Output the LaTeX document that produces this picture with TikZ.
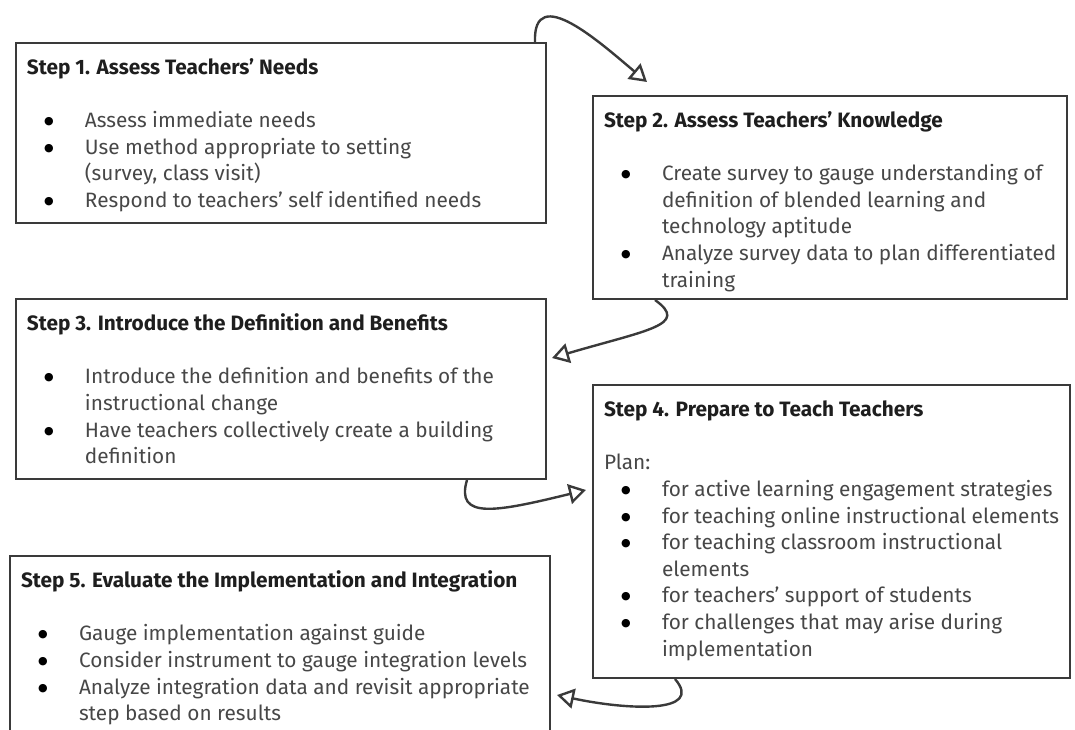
\documentclass[tikz,border=0pt]{standalone}
\usepackage{fontspec}
\setmainfont{Fira Sans}
\newfontfamily\dotfont{DejaVu Sans}
\usepackage{array}
\usetikzlibrary{arrows.meta,positioning}

\definecolor{edgegray}{HTML}{3A3A3A}
\definecolor{bodygray}{HTML}{474747}
\definecolor{headblack}{HTML}{1E1E1E}

\tikzstyle{stepbox} = [draw=edgegray,line width=2pt,rectangle,anchor=north west,
    inner xsep=11pt,inner ysep=13pt,text height=18.6pt,text=bodygray,
    font=\fontsize{20.8}{26.6}\selectfont]
\tikzstyle{arrow} = [draw=edgegray,line width=2.4pt,
    -{Triangle[open,length=17pt,width=20pt]}]

% bullet cell and bold step heading
\newcommand{\bul}{\makebox[44pt]{\color{black}\raisebox{3pt}{\dotfont\fontsize{11}{11}\selectfont ●}}}
\newcommand{\head}[2]{\multicolumn{2}{@{}p{#1}@{}}{\leavevmode\color{headblack}\bfseries #2}}

\begin{document}
\begin{tikzpicture}[x=1pt,y=-1pt]
    \useasboundingbox (0,0) rectangle (1075,730);

    \node[stepbox,text depth=135.4pt] (s1) at (15,42) {%
        \begin{tabular}[t]{@{}l@{\hspace{14pt}}l@{}}
        \head{508pt}{Step 1. Assess Teachers’ Needs}\\ \\
        \bul & Assess immediate needs\\
        \bul & Use method appropriate to setting\\
             & (survey, class visit)\\
        \bul & Respond to teachers’ self identified needs
        \end{tabular}};
    \node[stepbox,text depth=158.4pt] (s2) at (592,95) {%
        \begin{tabular}[t]{@{}l@{\hspace{14pt}}l@{}}
        \head{452pt}{Step 2. Assess Teachers’ Knowledge}\\ \\
        \bul & Create survey to gauge understanding of\\
             & definition of blended learning and\\
             & technology aptitude\\
        \bul & Analyze survey data to plan differentiated\\
             & training
        \end{tabular}};
    \node[stepbox,text depth=135.4pt] (s3) at (15,298) {%
        \begin{tabular}[t]{@{}l@{\hspace{14pt}}l@{}}
        \head{508pt}{Step 3. Introduce the Definition and Benefits}\\ \\
        \bul & Introduce the definition and benefits of the\\
             & instructional change\\
        \bul & Have teachers collectively create a building\\
             & definition
        \end{tabular}};
    \node[stepbox,text depth=248.4pt] (s4) at (592,384) {%
        \begin{tabular}[t]{@{}l@{\hspace{14pt}}l@{}}
        \head{452pt}{Step 4. Prepare to Teach Teachers}\\ \\
        \multicolumn{2}{@{}l@{}}{Plan:}\\
        \bul & for active learning engagement strategies\\
        \bul & for teaching online instructional elements\\
        \bul & for teaching classroom instructional\\
             & elements\\
        \bul & for teachers’ support of students\\
        \bul & for challenges that may arise during\\
             & implementation
        \end{tabular}};
    \node[stepbox,text depth=145.4pt] (s5) at (9,555) {%
        \begin{tabular}[t]{@{}l@{\hspace{14pt}}l@{}}
        \head{518pt}{Step 5. Evaluate the Implementation and Integration}\\ \\
        \bul & Gauge implementation against guide\\
        \bul & Consider instrument to gauge integration levels\\
        \bul & Analyze integration data and revisit appropriate\\
             & step based on results
        \end{tabular}};

    % arrow ends, just off the next box
    \coordinate (t2) at ([xshift=55pt,yshift=13pt]s2.north west);
    \coordinate (t3) at ([xshift=5pt,yshift=-60pt]s3.north east);
    \coordinate (t4) at ([xshift=-6pt,yshift=-106pt]s4.north west);
    \coordinate (t5) at ([xshift=6pt,yshift=-140pt]s5.north east);

    \draw[arrow] ([xshift=-12pt]s1.north east) to[out=92,in=140,looseness=1.3] (t2);
    \draw[arrow] ([xshift=63pt]s2.south west) .. controls +(35,25) and +(95,-28) .. (t3);
    \draw[arrow] ([xshift=452pt]s3.south west) .. controls +(-12,40) and +(-90,22) .. (t4);
    \draw[arrow] ([xshift=83pt]s4.south west) .. controls +(30,35) and +(70,15) .. (t5);
\end{tikzpicture}
\end{document}
